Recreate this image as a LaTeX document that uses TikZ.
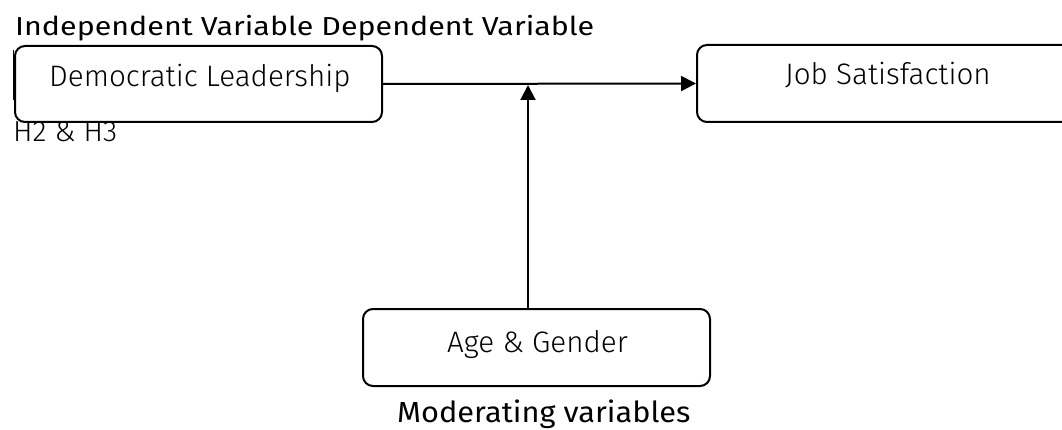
\documentclass[tikz,border=0pt]{standalone}
\usepackage{fontspec}
\setmainfont{Fira Sans}
\newfontfamily\lightf{Fira Sans Light}
\newfontfamily\titlef{Fira Sans}[FakeStretch=1.17]
\newfontfamily\modf{Fira Sans}[FakeStretch=1.06]
\usetikzlibrary{arrows.meta}

\tikzset{
  box/.style={draw=black, line width=2pt, rounded corners=10pt, fill=white, inner sep=0pt},
  heading/.style={anchor=base west, inner sep=0pt, font=\titlef\fontsize{26}{30}\selectfont},
  boxtext/.style={anchor=base west, inner sep=0pt, font=\lightf\fontsize{29.6}{34}\selectfont},
  arr/.style={draw=black, line width=2pt, -{Triangle[length=15pt,width=15pt]}}
}

\begin{document}
\begin{tikzpicture}[x=1pt,y=-1pt]
  \useasboundingbox (0,0) rectangle (1062,430);

  % headings
  \node[heading] (ivdv) at (15,36) {Independent Variable Dependent Variable};
  \node[heading, font=\lightf\fontsize{29}{32}\selectfont] (hyp) at (13,142) {H2 \& H3};
  \draw[line width=0.9pt] (13,50) -- (13,100);

  % boxes
  \node[box, minimum width=367pt, minimum height=76pt] (dl) at (198.5,84) {};
  \node[box, minimum width=420pt, minimum height=77pt] (js) at (907,83.5) {};
  \node[box, minimum width=347pt, minimum height=77pt] (ag) at (536.5,347.5) {};

  % box labels
  \node[boxtext] (dlt) at (49,87) {Democratic Leadership};
  \node[boxtext] (jst) at (785,85) {Job Satisfaction};
  \node[boxtext] (agt) at (447,352) {Age \& Gender};
  \node[heading, font=\modf\fontsize{29}{32}\selectfont] (mv) at (397,422) {Moderating variables};

  % connectors
  \coordinate (mt) at (528,85);
  \draw[arr] (dl.east) -- (js.west);
  \draw[arr] (ag.north -| mt) -- (mt);
\end{tikzpicture}
\end{document}
